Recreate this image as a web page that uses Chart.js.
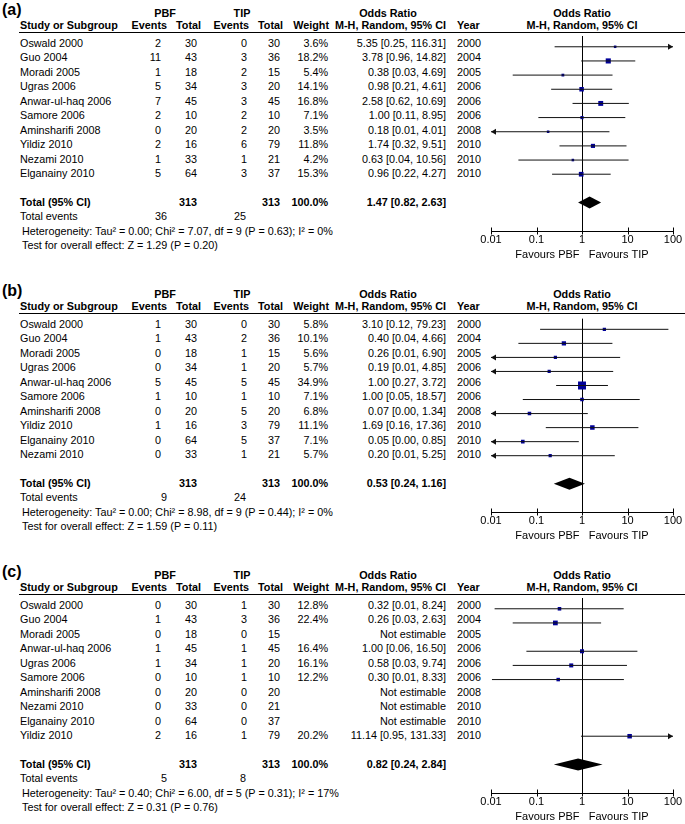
<!DOCTYPE html>
<html>
<head>
<meta charset="utf-8">
<script src="https://cdn.jsdelivr.net/npm/chart.js@4.4.0/dist/chart.umd.min.js"></script>
<style>
  body { margin: 0; background: #fff; }
  #page { position: relative; width: 685px; height: 824px; overflow: hidden; background: #fff;
          font-family: "Liberation Sans", Arial, sans-serif; font-size: 10.8px; color: #000; }
  .t { position: absolute; white-space: pre; line-height: 14px; }
  .b { font-weight: bold; }
  .lbl { font-size: 16px; font-weight: bold; line-height: 18px; }
  .uline { position: absolute; left: 19px; width: 666px; height: 0; border-top: 1px solid #000; }
  canvas { position: absolute; }
</style>
</head>
<body>
<div id="page"></div>
<script>
// ---- data ----
const XMIN = 0.01, XMAX = 100;
const axisTicks = [0.01, 0.1, 1, 10, 100];

// (a)
const studiesA = ['Oswald 2000', 'Guo 2004', 'Moradi 2005', 'Ugras 2006', 'Anwar-ul-haq 2006', 'Samore 2006', 'Aminsharifi 2008', 'Yildiz 2010', 'Nezami 2010', 'Elganainy 2010'];
const pbfEventsA = [2, 11, 1, 5, 7, 2, 0, 2, 1, 5];
const pbfTotalA = [30, 43, 18, 34, 45, 10, 20, 16, 33, 64];
const tipEventsA = [0, 3, 2, 3, 3, 2, 2, 6, 1, 3];
const tipTotalA = [30, 36, 15, 20, 45, 10, 20, 79, 21, 37];
const weightA = [3.6, 18.2, 5.4, 14.1, 16.8, 7.1, 3.5, 11.8, 4.2, 15.3];
const orA = [5.35, 3.78, 0.38, 0.98, 2.58, 1.00, 0.18, 1.74, 0.63, 0.96];
const loA = [0.25, 0.96, 0.03, 0.21, 0.62, 0.11, 0.008, 0.32, 0.04, 0.22];
const hiA = [116.31, 14.82, 4.69, 4.61, 10.69, 8.95, 4.01, 9.51, 10.56, 4.27];
const yearA = [2000, 2004, 2005, 2006, 2006, 2006, 2008, 2010, 2010, 2010];
const pooledA = [1.47, 0.82, 2.63];
const hetA = 'Heterogeneity: Tau² = 0.00; Chi² = 7.07, df = 9 (P = 0.63); I² = 0%';
const testA = 'Test for overall effect: Z = 1.29 (P = 0.20)';

// (b)
const studiesB = ['Oswald 2000', 'Guo 2004', 'Moradi 2005', 'Ugras 2006', 'Anwar-ul-haq 2006', 'Samore 2006', 'Aminsharifi 2008', 'Yildiz 2010', 'Elganainy 2010', 'Nezami 2010'];
const pbfEventsB = [1, 1, 0, 0, 5, 1, 0, 1, 0, 0];
const pbfTotalB = [30, 43, 18, 34, 45, 10, 20, 16, 64, 33];
const tipEventsB = [0, 2, 1, 1, 5, 1, 5, 3, 5, 1];
const tipTotalB = [30, 36, 15, 20, 45, 10, 20, 79, 37, 21];
const weightB = [5.8, 10.1, 5.6, 5.7, 34.9, 7.1, 6.8, 11.1, 7.1, 5.7];
const orB = [3.10, 0.40, 0.26, 0.19, 1.00, 1.00, 0.07, 1.69, 0.05, 0.20];
const loB = [0.12, 0.04, 0.008, 0.008, 0.27, 0.05, 0.004, 0.16, 0.003, 0.008];
const hiB = [79.23, 4.66, 6.90, 4.85, 3.72, 18.57, 1.34, 17.36, 0.85, 5.25];
const yearB = [2000, 2004, 2005, 2006, 2006, 2006, 2008, 2010, 2010, 2010];
const pooledB = [0.53, 0.24, 1.16];
const hetB = 'Heterogeneity: Tau² = 0.00; Chi² = 8.98, df = 9 (P = 0.44); I² = 0%';
const testB = 'Test for overall effect: Z = 1.59 (P = 0.11)';

// (c)
const studiesC = ['Oswald 2000', 'Guo 2004', 'Moradi 2005', 'Anwar-ul-haq 2006', 'Ugras 2006', 'Samore 2006', 'Aminsharifi 2008', 'Nezami 2010', 'Elganainy 2010', 'Yildiz 2010'];
const pbfEventsC = [0, 1, 0, 1, 1, 0, 0, 0, 0, 2];
const pbfTotalC = [30, 43, 18, 45, 34, 10, 20, 33, 64, 16];
const tipEventsC = [1, 3, 0, 1, 1, 1, 0, 0, 0, 1];
const tipTotalC = [30, 36, 15, 45, 20, 10, 20, 21, 37, 79];
const weightC = [12.8, 22.4, null, 16.4, 16.1, 12.2, null, null, null, 20.2];
const orC = [0.32, 0.26, null, 1.00, 0.58, 0.30, null, null, null, 11.14];
const loC = [0.012, 0.03, null, 0.06, 0.03, 0.0105, null, null, null, 0.95];
const hiC = [8.24, 2.63, null, 16.50, 9.74, 8.33, null, null, null, 131.33];
const yearC = [2000, 2004, 2005, 2006, 2006, 2006, 2008, 2010, 2010, 2010];
const pooledC = [0.82, 0.24, 2.84];
const hetC = 'Heterogeneity: Tau² = 0.40; Chi² = 6.00, df = 5 (P = 0.31); I² = 17%';
const testC = 'Test for overall effect: Z = 0.31 (P = 0.76)';

// ---- layout ----
const FONT = '"Liberation Sans", Arial, sans-serif';
const PITCH = 14.45;
const ROW0 = 43;       // first study row (relative to panel top)
const ULINE = 32;      // header underline
const AXIS = 231;      // x axis line
const page = document.getElementById('page');

function addText(text, x, y, align, cls) {
    const d = document.createElement('div');
    d.className = 't' + (cls ? ' ' + cls : '');
    d.textContent = text;
    d.style.top = (y - 7) + 'px';
    if (align === 'right') {
        d.style.right = (685 - x) + 'px';
    } else if (align === 'center') {
        d.style.left = (x - 100) + 'px';
        d.style.width = '200px';
        d.style.textAlign = 'center';
    } else {
        d.style.left = x + 'px';
    }
    page.appendChild(d);
    return d;
}

function sum(arr) { return arr.reduce((a, b) => a + b, 0); }
function fmtOR(or, lo, hi) {
    if (or === null) return 'Not estimable';
    return or.toFixed(2) + ' [' + lo.toFixed(2) + ', ' + hi.toFixed(2) + ']';
}

function makeForestPlugin(p) {
    return {
        id: 'forest',
        beforeDatasetsDraw(chart) {
            const { ctx, chartArea, scales: { x } } = chart;
            const px = Math.round(x.getPixelForValue(1)) + 0.5;
            ctx.save();
            ctx.strokeStyle = '#000';
            ctx.lineWidth = 1;
            ctx.beginPath();
            ctx.moveTo(px, chartArea.top);
            ctx.lineTo(px, chartArea.bottom);
            ctx.stroke();
            ctx.restore();
        },
        afterDatasetsDraw(chart) {
            const { ctx, chartArea, scales: { x, y } } = chart;
            ctx.save();
            // arrow heads for intervals running off the scale
            ctx.fillStyle = '#111';
            p.or.forEach((v, i) => {
                if (v === null) return;
                const py = y.getPixelForValue(i);
                if (p.lo[i] < XMIN) {
                    const ax = x.getPixelForValue(XMIN);
                    ctx.beginPath();
                    ctx.moveTo(ax, py);
                    ctx.lineTo(ax + 5, py - 3);
                    ctx.lineTo(ax + 5, py + 3);
                    ctx.closePath();
                    ctx.fill();
                }
                if (p.hi[i] > XMAX) {
                    const ax = x.getPixelForValue(XMAX);
                    ctx.beginPath();
                    ctx.moveTo(ax, py);
                    ctx.lineTo(ax - 5, py - 3);
                    ctx.lineTo(ax - 5, py + 3);
                    ctx.closePath();
                    ctx.fill();
                }
            });
            // pooled diamond
            const dy = y.getPixelForValue(11);
            const [pOr, pLo, pHi] = p.pooled;
            ctx.fillStyle = '#000';
            ctx.beginPath();
            ctx.moveTo(x.getPixelForValue(pLo), dy);
            ctx.lineTo(x.getPixelForValue(pOr), dy - 6);
            ctx.lineTo(x.getPixelForValue(pHi), dy);
            ctx.lineTo(x.getPixelForValue(pOr), dy + 6);
            ctx.closePath();
            ctx.fill();
            // x axis line and tick marks
            const ay = Math.round(chartArea.bottom) + 0.5;
            ctx.strokeStyle = '#000';
            ctx.lineWidth = 1;
            ctx.beginPath();
            ctx.moveTo(chartArea.left, ay);
            ctx.lineTo(chartArea.right, ay);
            axisTicks.forEach(t => {
                const tx = Math.round(x.getPixelForValue(t)) + 0.5;
                ctx.moveTo(tx, ay - 4);
                ctx.lineTo(tx, ay + 3);
            });
            ctx.stroke();
            ctx.restore();
        }
    };
}

function buildPanel(p) {
    const T = p.top;
    const rowY = i => T + ROW0 + PITCH * i;

    addText(p.label, 2, T + 8, 'left', 'lbl');
    addText('PBF', 165, T + 12.5, 'center', 'b');
    addText('TIP', 242, T + 12.5, 'center', 'b');
    addText('Odds Ratio', 388, T + 12.5, 'center', 'b');
    addText('Odds Ratio', 582, T + 12.5, 'center', 'b');

    const hy = T + 25;
    addText('Study or Subgroup', 20, hy, 'left', 'b');
    addText('Events', 167, hy, 'right', 'b');
    addText('Total', 201, hy, 'right', 'b');
    addText('Events', 249, hy, 'right', 'b');
    addText('Total', 283, hy, 'right', 'b');
    addText('Weight', 329, hy, 'right', 'b');
    addText('M-H, Random, 95% CI', 446, hy, 'right', 'b');
    addText('Year', 457, hy, 'left', 'b');
    addText('M-H, Random, 95% CI', 582, hy, 'center', 'b');

    const ul = document.createElement('div');
    ul.className = 'uline';
    ul.style.top = (T + ULINE) + 'px';
    page.appendChild(ul);

    p.studies.forEach((s, i) => {
        const y = rowY(i);
        addText(s, 20, y, 'left');
        addText(String(p.pbfE[i]), 161, y, 'right');
        addText(String(p.pbfT[i]), 197, y, 'right');
        addText(String(p.tipE[i]), 247, y, 'right');
        addText(String(p.tipT[i]), 280, y, 'right');
        if (p.weight[i] !== null) addText(p.weight[i].toFixed(1) + '%', 328, y, 'right');
        addText(fmtOR(p.or[i], p.lo[i], p.hi[i]), 446, y, 'right');
        addText(String(p.year[i]), 457, y, 'left');
    });

    const ty = rowY(11);
    addText('Total (95% CI)', 20, ty, 'left', 'b');
    addText(String(sum(p.pbfT)), 197, ty, 'right', 'b');
    addText(String(sum(p.tipT)), 280, ty, 'right', 'b');
    addText('100.0%', 328, ty, 'right', 'b');
    addText(fmtOR(p.pooled[0], p.pooled[1], p.pooled[2]), 446, ty, 'right', 'b');
    addText('Total events', 20, rowY(12), 'left');
    addText(String(sum(p.pbfE)), 167, rowY(12), 'right');
    addText(String(sum(p.tipE)), 246, rowY(12), 'right');
    addText(p.het, 22, rowY(13), 'left');
    addText(p.test, 22, rowY(14), 'left');

    // forest plot
    const canvas = document.createElement('canvas');
    const cTop = T + ULINE, cH = (AXIS - ULINE) + 40;
    canvas.width = 215; canvas.height = cH;
    canvas.style.left = '470px'; canvas.style.top = cTop + 'px';
    canvas.style.width = '215px'; canvas.style.height = cH + 'px';
    page.appendChild(canvas);

    const datasets = [];
    p.or.forEach((v, i) => {
        if (v === null) return;
        datasets.push({
            data: [{ x: Math.max(p.lo[i], XMIN), y: i }, { x: Math.min(p.hi[i], XMAX), y: i }],
            showLine: true, borderColor: '#111', borderWidth: 1, pointRadius: 0
        });
    });
    const pts = [], wts = [];
    p.or.forEach((v, i) => { if (v !== null) { pts.push({ x: v, y: i }); wts.push(p.weight[i]); } });
    datasets.push({
        data: pts,
        pointStyle: 'rect',
        pointRadius: ctx => Math.max(1.8, p.boxScale * Math.sqrt(wts[ctx.dataIndex]) / Math.SQRT2),
        backgroundColor: '#000099', borderWidth: 0
    });

    new Chart(canvas, {
        type: 'scatter',
        data: { datasets },
        options: {
            responsive: false, animation: false, events: [],
            layout: { padding: { left: 21, right: 12, top: 0, bottom: 0 } },
            plugins: { legend: { display: false }, tooltip: { enabled: false } },
            scales: {
                x: {
                    type: 'logarithmic', min: XMIN, max: XMAX, position: 'bottom',
                    afterBuildTicks: s => { s.ticks = axisTicks.map(v => ({ value: v })); },
                    afterFit: s => { s.height = 40; },
                    ticks: { callback: v => String(v), color: '#000', font: { family: FONT, size: 11 }, padding: 2, maxRotation: 0, autoSkip: false },
                    grid: { display: false, drawTicks: false },
                    border: { display: false },
                    title: { display: true, text: 'Favours PBF   Favours TIP', color: '#000', font: { family: FONT, size: 11 }, padding: { top: 0, bottom: 9 } }
                },
                y: {
                    type: 'linear', display: false, reverse: true,
                    min: (ULINE - ROW0) / PITCH, max: (AXIS - ROW0) / PITCH
                }
            }
        },
        plugins: [makeForestPlugin(p)]
    });
}

const panels = [
    { label: '(a)', top: 0, boxScale: 1.2, studies: studiesA, pbfE: pbfEventsA, pbfT: pbfTotalA, tipE: tipEventsA, tipT: tipTotalA,
      weight: weightA, or: orA, lo: loA, hi: hiA, year: yearA, pooled: pooledA, het: hetA, test: testA },
    { label: '(b)', top: 281, boxScale: 1.35, studies: studiesB, pbfE: pbfEventsB, pbfT: pbfTotalB, tipE: tipEventsB, tipT: tipTotalB,
      weight: weightB, or: orB, lo: loB, hi: hiB, year: yearB, pooled: pooledB, het: hetB, test: testB },
    { label: '(c)', top: 562, boxScale: 1.0, studies: studiesC, pbfE: pbfEventsC, pbfT: pbfTotalC, tipE: tipEventsC, tipT: tipTotalC,
      weight: weightC, or: orC, lo: loC, hi: hiC, year: yearC, pooled: pooledC, het: hetC, test: testC }
];
panels.forEach(buildPanel);
</script>
</body>
</html>
